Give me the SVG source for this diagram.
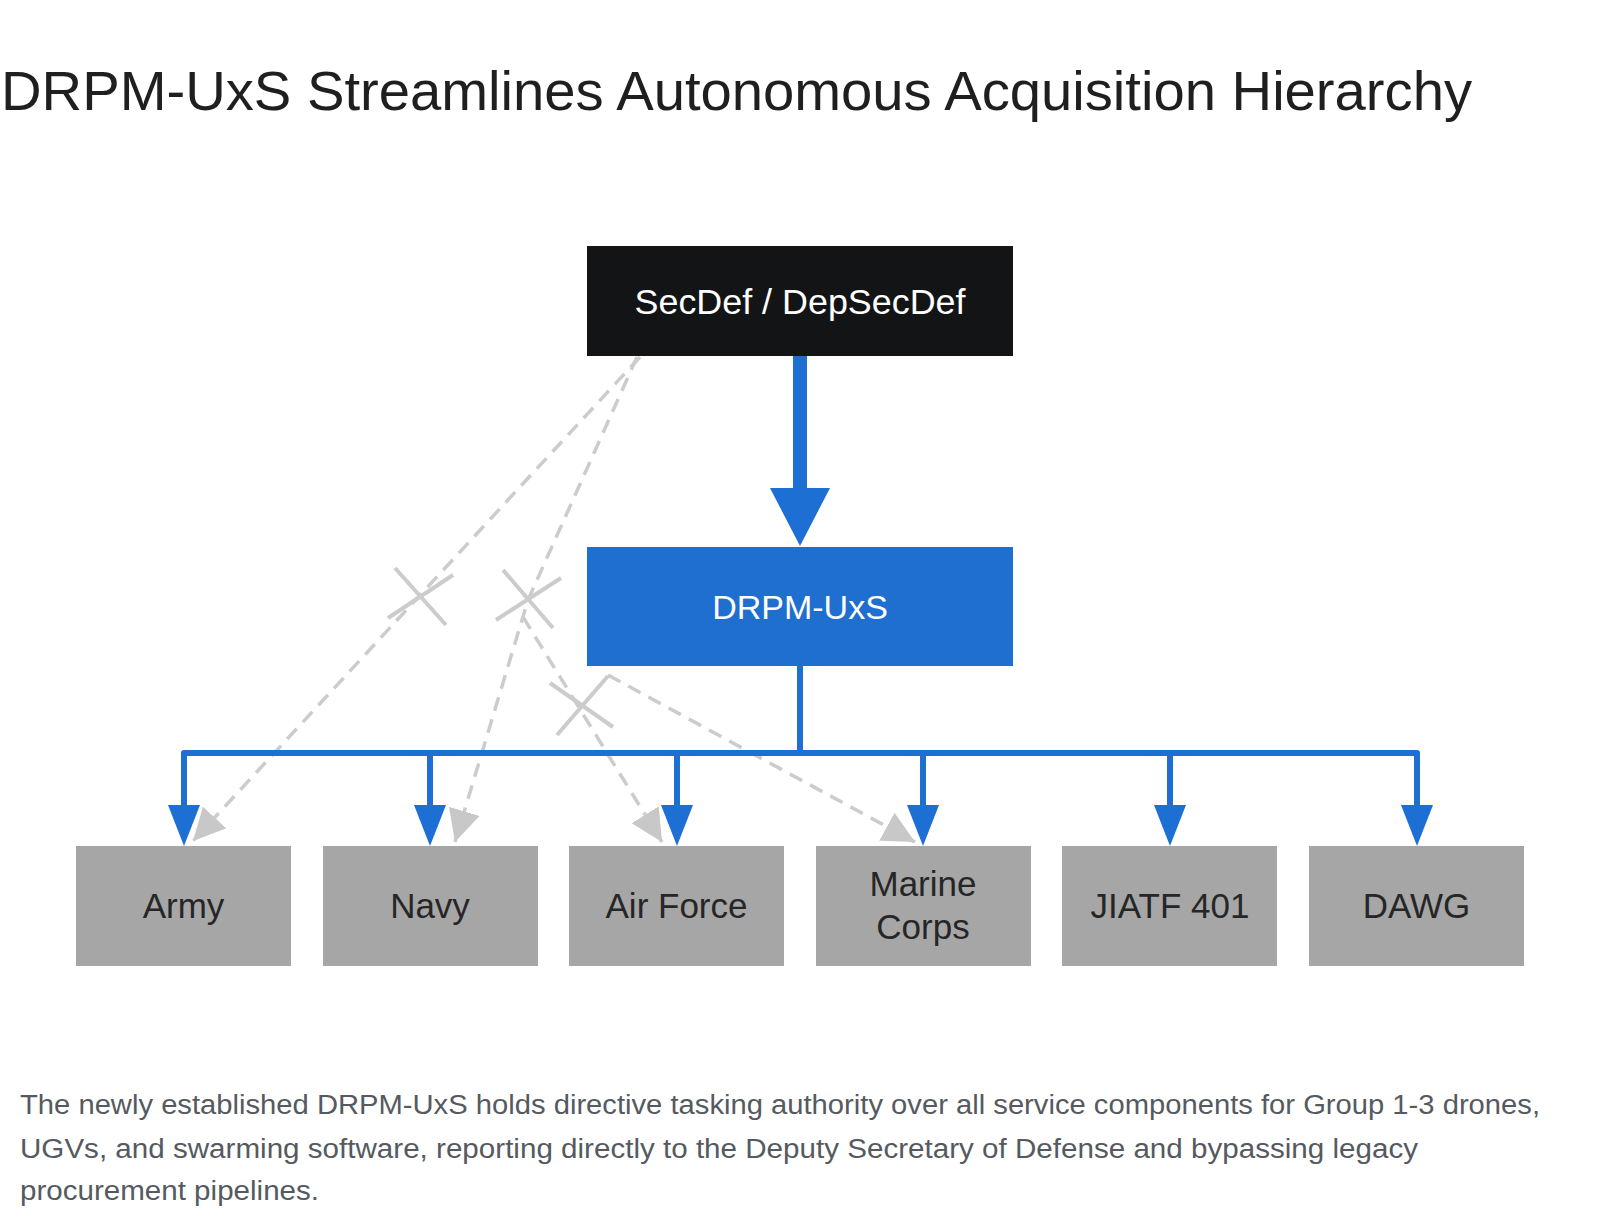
<svg xmlns="http://www.w3.org/2000/svg" width="1600" height="1226" viewBox="0 0 1600 1226">
  <defs>
    <style>
      .t { font-family: "Liberation Sans", Arial, sans-serif; }
      .title { font-size: 56px; fill: #1f1f1f; }
      .cap { font-size: 27px; fill: #555a60; }
      .wt { font-size: 34px; fill: #ffffff; text-anchor: middle; }
      .bt { font-size: 35px; fill: #262626; text-anchor: middle; }
      .box { fill: #a6a6a6; }
      .blue { stroke: #1e6fd4; fill: none; }
      .bh { fill: #1e6fd4; }
      .dash { stroke: #cccccc; stroke-width: 3.5; fill: none; stroke-dasharray: 14 9; }
      .xm { stroke: #cccccc; stroke-width: 4; stroke-linecap: butt; }
    </style>
    <marker id="gh" markerUnits="userSpaceOnUse" markerWidth="32" markerHeight="32" viewBox="0 0 30 30" refX="30" refY="15" orient="auto">
      <path d="M0,0 L30,15 L0,30 z" fill="#c8c8c8"/>
    </marker>
  </defs>
  <rect x="0" y="0" width="1600" height="1226" fill="#ffffff"/>

  <text class="t title" x="1" y="110" textLength="1471" lengthAdjust="spacingAndGlyphs">DRPM-UxS Streamlines Autonomous Acquisition Hierarchy</text>

  <g id="connectors">
    <!-- legacy dashed lines -->
    <line class="dash" x1="640" y1="357" x2="193" y2="841" marker-end="url(#gh)"/>
    <polyline class="dash" points="637,357 528,600 455,842" marker-end="url(#gh)"/>
    <line class="dash" x1="523" y1="617" x2="662" y2="842" marker-end="url(#gh)"/>
    <line class="dash" x1="608" y1="675" x2="915" y2="842" marker-end="url(#gh)"/>
    <!-- X marks -->
    <line class="xm" x1="395" y1="568" x2="446" y2="625"/>
    <line class="xm" x1="388" y1="618" x2="453" y2="575"/>
    <line class="xm" x1="503" y1="570" x2="553" y2="628"/>
    <line class="xm" x1="496" y1="620" x2="561" y2="578"/>
    <line class="xm" x1="550" y1="683" x2="613" y2="727"/>
    <line class="xm" x1="557" y1="735" x2="608" y2="676"/>

    <!-- main arrow -->
    <rect x="793" y="356" width="14" height="134" class="bh"/>
    <polygon class="bh" points="770,488 830,488 800,546"/>

    <!-- tree -->
    <line class="blue" x1="800" y1="666" x2="800" y2="753" stroke-width="6"/>
    <path class="blue" d="M184,808 V753 H1417 V808" stroke-width="6" stroke-linejoin="round"/>
    <line class="blue" x1="430" y1="753" x2="430" y2="808" stroke-width="6"/>
    <line class="blue" x1="677" y1="753" x2="677" y2="808" stroke-width="6"/>
    <line class="blue" x1="923" y1="753" x2="923" y2="808" stroke-width="6"/>
    <line class="blue" x1="1170" y1="753" x2="1170" y2="808" stroke-width="6"/>
    <polygon class="bh" points="168,805 200,805 184,846"/>
    <polygon class="bh" points="414,805 446,805 430,846"/>
    <polygon class="bh" points="661,805 693,805 677,846"/>
    <polygon class="bh" points="907,805 939,805 923,846"/>
    <polygon class="bh" points="1154,805 1186,805 1170,846"/>
    <polygon class="bh" points="1401,805 1433,805 1417,846"/>
  </g>

  <g id="secdef">
    <rect x="587" y="246" width="426" height="110" fill="#121416"/>
    <text class="t wt" x="800" y="314" style="font-size:35.5px" textLength="331" lengthAdjust="spacingAndGlyphs">SecDef / DepSecDef</text>
  </g>
  <g id="drpm">
    <rect x="587" y="547" width="426" height="119" fill="#1f6fd1"/>
    <text class="t wt" x="800" y="619">DRPM-UxS</text>
  </g>
  <g id="army">
    <rect class="box" x="76" y="846" width="215" height="120"/>
    <text class="t bt" x="183.5" y="918">Army</text>
  </g>
  <g id="navy">
    <rect class="box" x="323" y="846" width="215" height="120"/>
    <text class="t bt" x="430" y="918">Navy</text>
  </g>
  <g id="airforce">
    <rect class="box" x="569" y="846" width="215" height="120"/>
    <text class="t bt" x="676.5" y="918">Air Force</text>
  </g>
  <g id="marines">
    <rect class="box" x="816" y="846" width="215" height="120"/>
    <text class="t bt" x="923" y="896">Marine</text>
    <text class="t bt" x="923" y="939">Corps</text>
  </g>
  <g id="jiatf">
    <rect class="box" x="1062" y="846" width="215" height="120"/>
    <text class="t bt" x="1170" y="918">JIATF 401</text>
  </g>
  <g id="dawg">
    <rect class="box" x="1309" y="846" width="215" height="120"/>
    <text class="t bt" x="1416.5" y="918">DAWG</text>
  </g>

  <text class="t cap" x="20" y="1114" textLength="1520" lengthAdjust="spacingAndGlyphs">The newly established DRPM-UxS holds directive tasking authority over all service components for Group 1-3 drones,</text>
  <text class="t cap" x="20" y="1158" textLength="1398" lengthAdjust="spacingAndGlyphs">UGVs, and swarming software, reporting directly to the Deputy Secretary of Defense and bypassing legacy</text>
  <text class="t cap" x="20" y="1200" textLength="299" lengthAdjust="spacingAndGlyphs">procurement pipelines.</text>
</svg>
